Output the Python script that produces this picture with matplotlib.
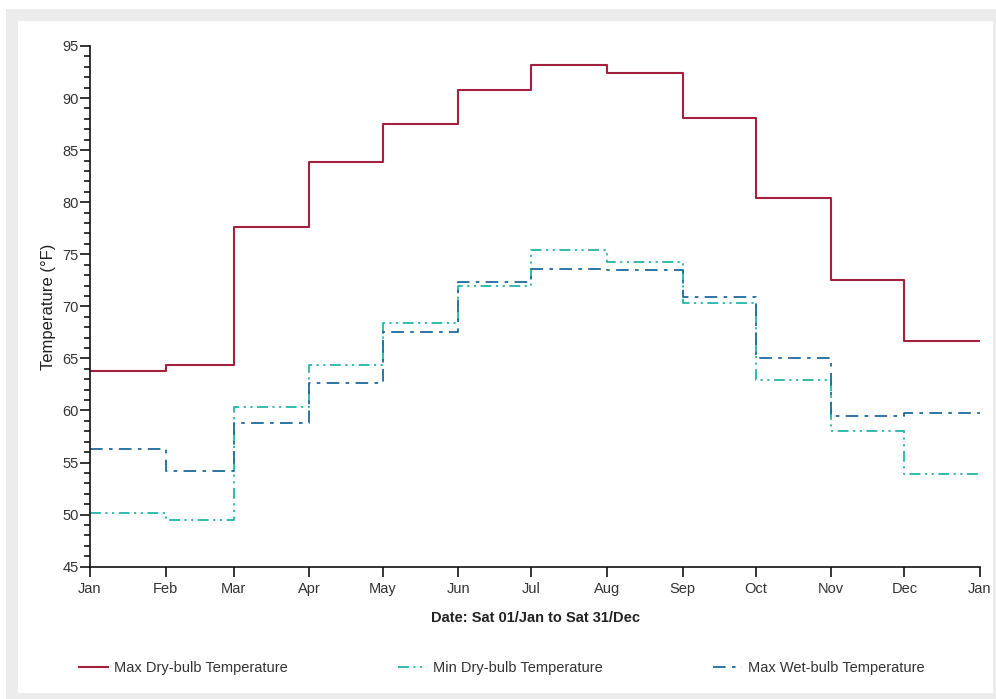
import datetime as dt
import matplotlib
matplotlib.use("Agg")
import matplotlib.pyplot as plt
from matplotlib.patches import Rectangle
from matplotlib.ticker import MultipleLocator

plt.rcParams["font.family"] = ["Liberation Sans", "DejaVu Sans"]

# monthly design values, step changes at each month start
months = [dt.date(2011, m, 1) for m in range(1, 13)] + [dt.date(2012, 1, 1)]
month_labels = ["Jan", "Feb", "Mar", "Apr", "May", "Jun", "Jul",
                "Aug", "Sep", "Oct", "Nov", "Dec", "Jan"]
max_dry = [63.8, 64.4, 77.6, 83.9, 87.5, 90.8, 93.2, 92.4, 88.1, 80.4, 72.5, 66.7]
min_dry = [50.2, 49.5, 60.3, 64.4, 68.4, 72.0, 75.4, 74.3, 70.3, 62.9, 58.0, 53.9]
max_wet = [56.3, 54.2, 58.8, 62.6, 67.5, 72.3, 73.6, 73.5, 70.9, 65.0, 59.5, 59.8]

fig = plt.figure(figsize=(9.96, 6.99), dpi=100)
fig.patch.set_facecolor("white")
W, H = 996, 699
fig.patches.append(Rectangle((6 / W, 0), 1 - 6 / W, 1 - 9 / H, transform=fig.transFigure,
                             facecolor="#ececec", edgecolor="none", zorder=-2))
fig.patches.append(Rectangle((18 / W, 6 / H), (993 - 18) / W, (693 - 21) / H,
                             transform=fig.transFigure, facecolor="white",
                             edgecolor="none", zorder=-1))

ax = fig.add_axes([90 / W, 1 - 566.7 / H, (980 - 90) / W, (566.7 - 46) / H])
ax.set_facecolor("none")

def extend(vals):
    return vals + [vals[-1]]

red = "#a3203f"
teal = "#22b5a8"
blue = "#1f6b9c"

lw = 1.3
ax.plot(months, extend(max_dry), drawstyle="steps-post", color=red, lw=1.5,
        label="Max Dry-bulb Temperature")
ax.plot(months, extend(min_dry), drawstyle="steps-post", color=teal, lw=lw,
        dashes=(6, 2.5, 1.2, 2.5, 1.2, 2.5), label="Min Dry-bulb Temperature")
ax.plot(months, extend(max_wet), drawstyle="steps-post", color=blue, lw=lw,
        dashes=(7, 3.5, 2, 3.5), label="Max Wet-bulb Temperature")

ax.set_xlim(months[0], months[-1])
ax.set_ylim(45, 95)
ax.set_xticks(months)
ax.set_xticklabels(month_labels)
ax.yaxis.set_major_locator(MultipleLocator(5))
ax.yaxis.set_minor_locator(MultipleLocator(1))

for s in ["top", "right"]:
    ax.spines[s].set_visible(False)
for s in ["left", "bottom"]:
    ax.spines[s].set_linewidth(1.2)
    ax.spines[s].set_color("#111111")

ax.tick_params(axis="y", which="major", length=7, width=1.1, labelsize=10.5,
               labelcolor="#333333", pad=1)
ax.tick_params(axis="y", which="minor", length=4, width=1.1)
ax.tick_params(axis="x", which="major", length=7, width=1.1, labelsize=10.5,
               labelcolor="#333333", pad=4)

ax.set_ylabel("Temperature (°F)", fontsize=12, color="#222222", labelpad=5)
ax.set_xlabel("Date: Sat 01/Jan to Sat 31/Dec", fontsize=10.5, fontweight="bold",
              color="#222222", labelpad=11)

fig.legend(loc="lower left", bbox_to_anchor=(73 / W, 1 - 681 / H, (930 - 73) / W, 20 / H),
           ncol=3, mode="expand", frameon=False, fontsize=10.5, handlelength=2.0,
           handletextpad=0.4, borderaxespad=0, labelcolor="#333333")

fig.savefig("out.png", dpi=100)
